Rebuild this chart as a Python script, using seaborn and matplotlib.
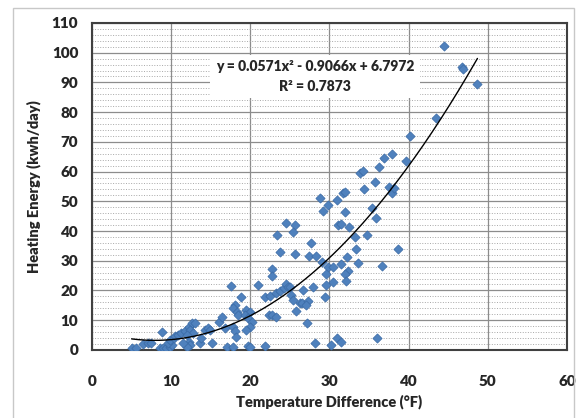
import numpy as np
import pandas as pd
import matplotlib
matplotlib.use('Agg')
import matplotlib.pyplot as plt
from matplotlib.patches import Rectangle
from matplotlib.ticker import MultipleLocator
import seaborn as sns

# temperature difference (F) vs heating energy (kwh/day)
temp_diff = [5.0, 5.5, 6.5, 7.1, 7.5, 8.6, 9.0, 9.4, 8.9, 9.9, 10.1, 9.6, 9.9, 10.3, 10.5,
             10.9, 11.3, 11.7, 12.2, 12.6, 13.0, 12.4, 12.8, 12.0, 12.2, 12.4, 12.0, 11.5,
             13.6, 13.8, 14.3, 14.6, 14.9, 15.1, 16.0, 16.4,
             16.8, 17.0, 17.8, 17.5, 18.8, 18.1, 17.8, 18.3, 18.5, 19.5, 20.0, 19.3, 19.7,
             20.2, 20.0, 17.8, 18.1, 18.2, 19.5, 19.7, 20.0, 21.9, 21.0, 22.4, 22.8, 23.2,
             21.9, 22.5, 23.3, 23.7, 24.2, 24.5, 24.8, 22.8, 22.8, 23.4, 23.7, 24.5, 25.6,
             25.4, 25.7, 25.2, 25.4, 26.3, 25.8, 27.1,
             27.7, 27.4, 28.3, 29.0, 29.8, 30.4, 31.4, 32.4, 32.0, 29.6, 32.1, 30.4, 29.6,
             27.9, 26.7, 25.0, 29.4, 26.5, 27.3, 27.0, 28.2, 30.2, 31.0, 31.4, 36.0, 36.7,
             33.6, 32.2, 33.3, 38.6, 33.2, 34.7, 32.5, 31.1, 31.4, 35.9, 35.4, 32.0, 29.2,
             29.8, 28.8, 31.0, 31.7, 32.0, 34.4, 35.7, 37.5, 37.9, 38.1, 33.9, 34.2, 36.3,
             36.9, 37.9, 39.7, 40.2, 43.5, 44.5, 46.7, 46.9, 48.7]
energy = [0.6, 0.6, 2.0, 2.2, 2.2, 0.6, 0.6, 0.6, 5.9, 1.1, 1.7, 2.2, 3.4, 3.9, 4.5,
          5.0, 5.6, 6.2, 7.8, 9.0, 9.2, 6.7, 5.6, 5.0, 2.8, 1.7, 1.1, 2.2,
          2.2, 3.9, 6.7, 7.3, 6.7, 2.2, 9.5, 11.2,
          7.3, 1.1, 0.9, 21.5, 17.7, 15.1, 14.0, 12.9, 11.8, 13.5, 12.9, 11.8, 10.7,
          9.5, 7.8, 7.8, 6.2, 4.3, 6.7, 1.3, 0.9, 1.3, 21.9, 11.8, 11.8, 11.0,
          17.7, 18.2, 19.1, 19.8, 20.8, 22.2, 21.3, 27.1, 24.7, 38.6, 32.8, 42.6, 42.0,
          39.6, 32.3, 18.5, 16.8, 15.7, 13.2, 9.0,
          36.1, 31.6, 31.6, 29.7, 28.0, 28.0, 28.9, 26.7, 25.5, 25.5, 23.2, 23.0, 21.9,
          21.3, 20.2, 21.3, 17.9, 15.9, 16.6, 15.1, 2.3, 1.7, 3.9, 2.8, 3.9, 28.3,
          29.2, 31.2, 33.9, 33.9, 38.1, 38.7, 41.3, 42.0, 42.4, 44.5, 47.7, 46.5, 46.8,
          48.8, 51.0, 50.5, 52.7, 53.2, 54.0, 56.5, 54.9, 52.7, 54.4, 59.6, 60.3, 61.7,
          64.5, 65.9, 63.4, 72.1, 78.1, 102.4, 95.3, 94.5, 89.4]

# polynomial trendline as reported on the chart
fit_coeffs = [0.0571, -0.9066, 6.7972]
fit_r2 = 0.7873

df = pd.DataFrame({'Temperature Difference': temp_diff, 'Heating Energy': energy})
fit_x = np.linspace(min(temp_diff), max(temp_diff), 200)
fit_df = pd.DataFrame({'x': fit_x, 'y': np.polyval(fit_coeffs, fit_x)})

sns.set_style("white")
plt.rcParams['font.family'] = ['Lato', 'DejaVu Sans']
plt.rcParams['font.weight'] = 'bold'

fig = plt.figure(figsize=[5.79, 4.18], dpi=100)
fig.patches.append(Rectangle((0.022, -0.01), 0.969, 0.991, transform=fig.transFigure,
                             fill=False, edgecolor='#c8c8c8', linewidth=1.0))
ax = fig.add_axes([0.159, 0.163, 0.820, 0.782])

sns.scatterplot(x='Temperature Difference', y='Heating Energy', data=df, marker='D', s=22,
                color='#4f81bd', edgecolor='#3a6aa5', linewidth=0.5, zorder=3, ax=ax)
sns.lineplot(x='x', y='y', data=fit_df, color='black', linewidth=1.0, zorder=4, ax=ax)

ax.set_xlim(0, 60)
ax.set_ylim(0, 110)
ax.xaxis.set_major_locator(MultipleLocator(10))
ax.yaxis.set_major_locator(MultipleLocator(10))
ax.yaxis.set_minor_locator(MultipleLocator(2))
ax.grid(which='major', axis='both', color='#8c8c8c', linewidth=0.9, linestyle='-', zorder=0)
ax.grid(which='minor', axis='y', color='#a8a8a8', linewidth=0.7, linestyle=':', zorder=0)
ax.set_axisbelow(True)
for sp in ax.spines.values():
    sp.set_color('#404040')
    sp.set_linewidth(1.5)
ax.tick_params(axis='both', which='major', direction='out', length=5, width=0.9,
               color='#8c8c8c', labelsize=11)
ax.tick_params(axis='x', pad=13)
ax.tick_params(axis='y', pad=5)
ax.tick_params(which='minor', length=0)
for lab in ax.get_xticklabels() + ax.get_yticklabels():
    lab.set_fontweight('heavy')
ax.set_xlabel('Temperature Difference (°F)', fontsize=10.5, fontweight='heavy', labelpad=5)
ax.set_ylabel('Heating Energy (kwh/day)', fontsize=10.5, fontweight='heavy', labelpad=8)

eq = 'y = {0}x² - {1}x + {2}\nR² = {3}'.format(fit_coeffs[0], abs(fit_coeffs[1]), fit_coeffs[2], fit_r2)
ax.text(28.2, 92.0, eq, ha='center', va='center', fontsize=10, fontweight='heavy',
        linespacing=1.6, zorder=5,
        bbox=dict(facecolor='white', edgecolor='none', boxstyle='square,pad=0.4'))

fig.savefig('out.png', dpi=100)
